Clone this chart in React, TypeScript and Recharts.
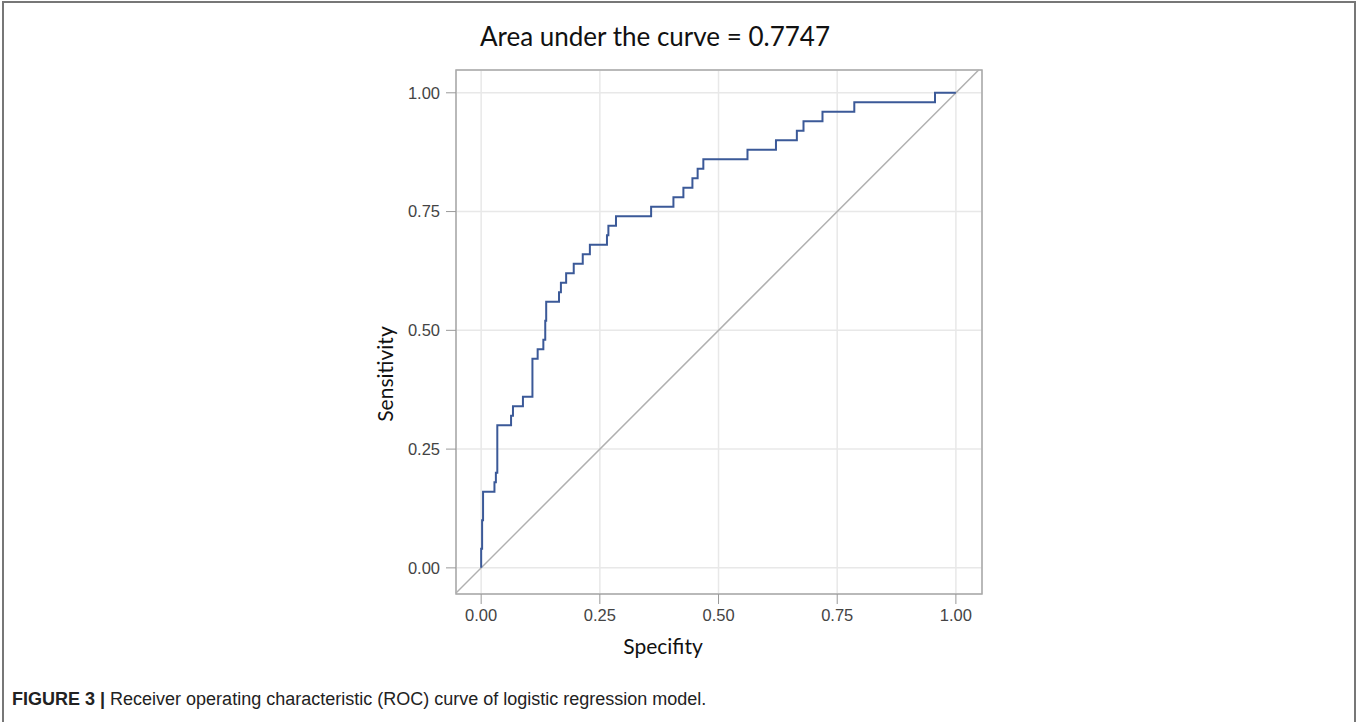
import React from 'react';
import {
  LineChart,
  Line,
  XAxis,
  YAxis,
  CartesianGrid,
  ReferenceLine,
  ReferenceArea,
} from 'recharts';

// ROC corner points (stepBefore: rise at previous x, then move right)
const fpr = [
  0, 0.002, 0.004, 0.028, 0.031, 0.034, 0.063, 0.067, 0.088, 0.108, 0.119, 0.131, 0.135,
  0.137, 0.164, 0.168, 0.179, 0.195, 0.214, 0.229, 0.265, 0.268, 0.284, 0.358, 0.405,
  0.426, 0.445, 0.456, 0.468, 0.561, 0.621, 0.665, 0.679, 0.719, 0.786, 0.956, 1.0,
];
const tpr = [
  0, 0.04, 0.1, 0.16, 0.18, 0.2, 0.3, 0.32, 0.34, 0.36, 0.44, 0.46, 0.48,
  0.52, 0.56, 0.58, 0.6, 0.62, 0.64, 0.66, 0.68, 0.7, 0.72, 0.74, 0.76,
  0.78, 0.8, 0.82, 0.84, 0.86, 0.88, 0.9, 0.92, 0.94, 0.96, 0.98, 1.0,
];
const ticks = [0, 0.25, 0.5, 0.75, 1];
const xDomain: [number, number] = [-0.053, 1.055];
const yDomain: [number, number] = [-0.055, 1.048];

const rocData = fpr.map((x, i) => ({ x, y: tpr[i] }));

const fmt = (v: number) => v.toFixed(2);
const tickStyle = { fill: '#444', fontSize: 16.5, fontFamily: 'Liberation Sans, Arial, sans-serif' };

export default function App() {
  return (
    <div style={{ position: 'relative', width: 1357, height: 722, background: '#fff', overflow: 'hidden' }}>
      <style>{'body{margin:0}'}</style>
      <div
        style={{
          position: 'absolute',
          left: 2,
          top: 1,
          width: 1350,
          height: 740,
          borderTop: '2px solid #777',
          borderLeft: '2px solid #777',
          borderRight: '2px solid #777',
        }}
      />
      <div
        style={{
          position: 'absolute',
          left: 0,
          width: 1310,
          top: 20,
          textAlign: 'center',
          fontFamily: 'Lato, sans-serif',
          fontSize: 26,
          color: '#111',
        }}
      >
        Area under the curve = 0.7747
      </div>
      <div style={{ position: 'absolute', left: 0, top: 0 }}>
        <LineChart
          width={1357}
          height={722}
          data={rocData}
          margin={{ top: 70, left: 396, right: 375, bottom: 98 }}
        >
          <CartesianGrid stroke="#e8e8e8" strokeWidth={1.5} />
          <XAxis
            dataKey="x"
            type="number"
            domain={xDomain}
            ticks={ticks}
            allowDataOverflow
            tickFormatter={fmt}
            height={30}
            axisLine={false}
            tickLine={{ stroke: '#999' }}
            tickSize={10}
            tickMargin={5}
            tick={tickStyle}
          />
          <YAxis
            type="number"
            domain={yDomain}
            ticks={ticks}
            allowDataOverflow
            tickFormatter={fmt}
            width={60}
            axisLine={false}
            tickLine={{ stroke: '#999' }}
            tickSize={10}
            tickMargin={6}
            tick={tickStyle}
          />
          <ReferenceArea
            x1={xDomain[0]}
            x2={xDomain[1]}
            y1={yDomain[0]}
            y2={yDomain[1]}
            fill="none"
            stroke="#a8a8a8"
            strokeWidth={1.5}
          />
          <ReferenceLine
            segment={[
              { x: -0.053, y: -0.053 },
              { x: 1.048, y: 1.048 },
            ]}
            stroke="#b0b0b0"
            strokeWidth={1.5}
          />
          <Line
            dataKey="y"
            type="stepBefore"
            stroke="#3b5998"
            strokeWidth={2}
            dot={false}
            isAnimationActive={false}
          />
        </LineChart>
      </div>
      <div
        style={{
          position: 'absolute',
          left: 603,
          width: 120,
          top: 633,
          textAlign: 'center',
          fontFamily: 'Lato, sans-serif',
          fontSize: 21,
          color: '#111',
        }}
      >
        Specifity
      </div>
      <div
        style={{
          position: 'absolute',
          left: 384,
          top: 374,
          transform: 'translate(-50%, -50%) rotate(-90deg)',
          fontFamily: 'Lato, sans-serif',
          fontSize: 21,
          color: '#111',
          whiteSpace: 'nowrap',
        }}
      >
        Sensitivity
      </div>
      <div
        style={{
          position: 'absolute',
          left: 12,
          top: 689,
          fontFamily: 'Liberation Sans, Arial, sans-serif',
          fontSize: 18,
          color: '#222',
          whiteSpace: 'nowrap',
        }}
      >
        <b>FIGURE 3 |</b> Receiver operating characteristic (ROC) curve of logistic regression model.
      </div>
    </div>
  );
}
